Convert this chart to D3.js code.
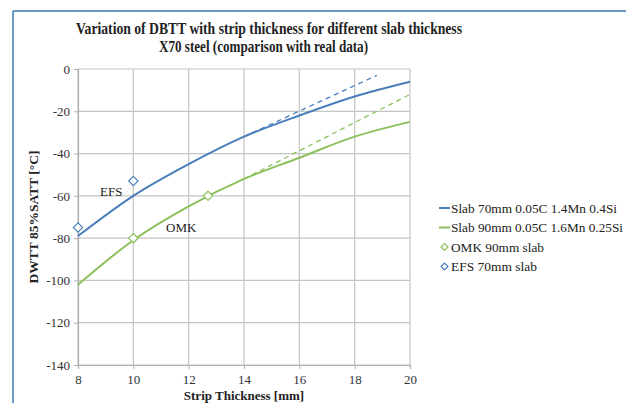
<!DOCTYPE html>
<html>
<head>
<meta charset="utf-8">
<script src="https://cdn.jsdelivr.net/npm/d3@7"></script>
<style>
  html, body { margin: 0; padding: 0; background: #fff; overflow: hidden; }
</style>
</head>
<body>
<svg id="chart" width="626" height="403"></svg>
<script>
// data
var thickness = [8, 10, 12, 14, 16, 18, 20];
var slab70 = [-79, -60, -45, -32, -22, -13, -6];
var slab90 = [-102, -81, -65, -52, -42, -32, -25];
var slab70Trend = [[14, -32], [18.8, -3]];
var slab90Trend = [[14, -52], [20, -12]];
var omkPoints = [[10, -80], [12.7, -60]];
var efsPoints = [[8, -75], [10, -53]];
var xTicks = [8, 10, 12, 14, 16, 18, 20];
var yTicks = [0, -20, -40, -60, -80, -100, -120, -140];

var blue = "#4a7ebb", green = "#8cc05a";
var serif = "'Liberation Serif', 'Times New Roman', serif";

var svg = d3.select("svg#chart").style("font-family", serif);

// outer frame (only left and top visible)
svg.append("line").attr("x1", 13).attr("y1", 11).attr("x2", 626).attr("y2", 11)
  .style("stroke", "#3a78b8").style("stroke-width", 1.5);
svg.append("line").attr("x1", 13).attr("y1", 11).attr("x2", 13).attr("y2", 403)
  .style("stroke", "#3a78b8").style("stroke-width", 1.5);

var x = d3.scaleLinear().domain([8, 20]).range([78, 410]);
var y = d3.scaleLinear().domain([-140, 0]).range([365, 69]);

// grid
svg.append("g").selectAll("line.v").data(xTicks).enter().append("line")
  .attr("x1", function(d) { return x(d); }).attr("x2", function(d) { return x(d); })
  .attr("y1", y(0)).attr("y2", y(-140))
  .style("stroke", "#c4c4c4").style("stroke-width", 1.2);
svg.append("g").selectAll("line.h").data(yTicks).enter().append("line")
  .attr("x1", x(8)).attr("x2", x(20))
  .attr("y1", function(d) { return y(d); }).attr("y2", function(d) { return y(d); })
  .style("stroke", "#c4c4c4").style("stroke-width", 1.2);

// axes
var fmt = function(d) { return String(d); };
var xAxis = d3.axisBottom(x).tickValues(xTicks).tickFormat(fmt).tickSize(4).tickPadding(6);
var yAxis = d3.axisLeft(y).tickValues(yTicks).tickFormat(fmt).tickSize(4).tickPadding(4);

var gx = svg.append("g").attr("transform", "translate(0," + y(-140) + ")").call(xAxis);
var gy = svg.append("g").attr("transform", "translate(" + x(8) + ",0)").call(yAxis);
[gx, gy].forEach(function(g) {
  g.attr("font-family", null).attr("font-size", null);
  g.select(".domain").style("stroke", "#b0b0b0").style("stroke-width", 1.2);
  g.selectAll(".tick line").style("stroke", "#b0b0b0");
  g.selectAll("text").style("font-size", "13px").style("font-family", serif).attr("fill", "#333");
});

// lines
var line = d3.line().x(function(d) { return x(d[0]); }).y(function(d) { return y(d[1]); })
  .curve(d3.curveMonotoneX);

svg.append("path").datum(slab70Trend).attr("d", line)
  .style("fill", "none").style("stroke", blue).style("stroke-width", 1.3).style("stroke-dasharray", "5,4");
svg.append("path").datum(slab90Trend).attr("d", line)
  .style("fill", "none").style("stroke", green).style("stroke-width", 1.3).style("stroke-dasharray", "5,4");

svg.append("path").datum(d3.zip(thickness, slab70)).attr("d", line)
  .style("fill", "none").style("stroke", blue).style("stroke-width", 2);
svg.append("path").datum(d3.zip(thickness, slab90)).attr("d", line)
  .style("fill", "none").style("stroke", green).style("stroke-width", 2);

// diamonds
var diamond = d3.symbol().type(d3.symbolDiamond2).size(55);
svg.append("g").selectAll("path").data(omkPoints).enter().append("path")
  .attr("d", diamond)
  .attr("transform", function(d) { return "translate(" + x(d[0]) + "," + y(d[1]) + ")"; })
  .style("fill", "#fff").style("stroke", green).style("stroke-width", 1.2);
svg.append("g").selectAll("path").data(efsPoints).enter().append("path")
  .attr("d", diamond)
  .attr("transform", function(d) { return "translate(" + x(d[0]) + "," + y(d[1]) + ")"; })
  .style("fill", "#fff").style("stroke", blue).style("stroke-width", 1.2);

// annotations
svg.append("text").attr("x", 100).attr("y", 196).style("font-size", "13px").attr("fill", "#222").text("EFS");
svg.append("text").attr("x", 166).attr("y", 232).style("font-size", "13px").attr("fill", "#222").text("OMK");

// titles (the original is a bit condensed)
svg.append("text").attr("x", 76).attr("y", 34).attr("fill", "#222")
  .attr("textLength", 386).attr("lengthAdjust", "spacingAndGlyphs")
  .style("font-size", "16px").style("font-weight", "bold").text("Variation of DBTT with strip thickness for different slab thickness");
svg.append("text").attr("x", 159).attr("y", 52).attr("fill", "#222")
  .attr("textLength", 209).attr("lengthAdjust", "spacingAndGlyphs")
  .style("font-size", "16px").style("font-weight", "bold").text("X70 steel (comparison with real data)");

svg.append("text").attr("x", 244).attr("y", 400).attr("text-anchor", "middle").attr("fill", "#222")
  .style("font-size", "13px").style("font-weight", "bold").text("Strip Thickness  [mm]");
svg.append("text").attr("transform", "translate(38," + y(-70) + ") rotate(-90)").attr("text-anchor", "middle").attr("fill", "#222")
  .style("font-size", "13.5px").style("font-weight", "bold").text("DWTT 85%SATT [°C]");

// legend
var legendItems = [
  { name: "Slab 70mm 0.05C 1.4Mn 0.4Si", color: blue, type: "line", w: 166 },
  { name: "Slab 90mm 0.05C 1.6Mn 0.25Si", color: green, type: "line", w: 172 },
  { name: "OMK 90mm slab", color: green, type: "diamond", w: 93 },
  { name: "EFS 70mm slab", color: blue, type: "diamond", w: 86 }
];
var legend = svg.append("g").selectAll("g").data(legendItems).enter().append("g")
  .attr("transform", function(d, i) { return "translate(439," + (208 + i * 19.5) + ")"; });
legend.filter(function(d) { return d.type == "line"; }).append("line")
  .attr("x1", 0).attr("x2", 11).attr("y1", 0).attr("y2", 0)
  .style("stroke", function(d) { return d.color; }).style("stroke-width", 2);
legend.filter(function(d) { return d.type == "diamond"; }).append("path")
  .attr("d", d3.symbol().type(d3.symbolDiamond2).size(30))
  .attr("transform", "translate(5.5,0)")
  .style("fill", "#fff").style("stroke", function(d) { return d.color; }).style("stroke-width", 1.2);
legend.append("text").attr("x", 12).attr("y", 4.5).style("font-size", "13.5px").attr("fill", "#222")
  .attr("textLength", function(d) { return d.w; }).attr("lengthAdjust", "spacingAndGlyphs")
  .text(function(d) { return d.name; });
</script>
</body>
</html>
